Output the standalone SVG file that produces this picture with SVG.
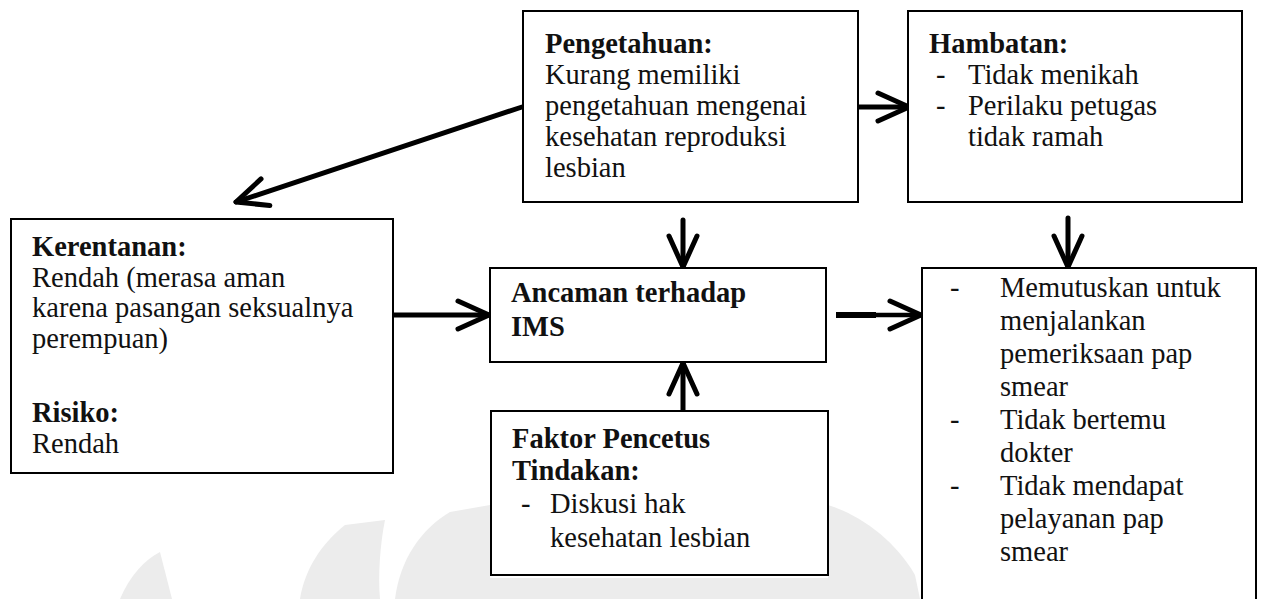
<svg xmlns="http://www.w3.org/2000/svg" width="1262" height="599" viewBox="0 0 1262 599">
<style>
  .box { fill: #ffffff; stroke: #000000; stroke-width: 2; }
  .t { font-family: "Liberation Serif", "Times New Roman", serif; font-size: 28.5px; fill: #111111; }
  .b { font-weight: bold; }
  .conn { stroke: #000000; stroke-width: 5; fill: none; stroke-linecap: round; }
  .wm { fill: #ececec; stroke: none; }
</style>
<defs>
  <marker id="ah" markerUnits="userSpaceOnUse" markerWidth="50" markerHeight="50" refX="0" refY="0" viewBox="-40 -25 50 50" orient="auto" overflow="visible">
    <path d="M-31,-14 L0,0 L-31,14" fill="none" stroke="#000000" stroke-width="5" stroke-linecap="round" stroke-linejoin="round"/>
  </marker>
</defs>
<rect width="1262" height="599" fill="#ffffff"/>
<g id="watermark">
  <path class="wm" d="M120,599 C130,575 145,560 160,552 L172,599 Z"/>
  <path class="wm" d="M300,599 C305,570 320,545 345,525 L385,520 C380,545 378,575 380,599 Z"/>
  <path class="wm" d="M395,599 C400,560 420,530 450,512 L490,505 L490,599 Z"/>
  <path class="wm" d="M828,505 C860,515 895,540 915,575 L920,599 L828,599 Z"/>
  <path class="wm" d="M1050,599 C1058,575 1075,555 1100,545 C1115,560 1125,580 1130,599 Z"/>
  <path class="wm" d="M490,599 L490,578 L828,578 L828,599 Z"/>
</g>
<g id="connectors">
  <line class="conn" x1="522" y1="107" x2="236" y2="202" marker-end="url(#ah)"/>
  <line class="conn" x1="858" y1="107" x2="909" y2="107" marker-end="url(#ah)"/>
  <line class="conn" x1="393" y1="315" x2="489" y2="315" marker-end="url(#ah)"/>
  <line class="conn" x1="836" y1="315" x2="876" y2="315" style="stroke-width:6;stroke-linecap:butt"/>
  <line class="conn" x1="876" y1="315" x2="921" y2="315" style="stroke-width:4.5;stroke-linecap:butt" marker-end="url(#ah)"/>
  <line class="conn" x1="683" y1="220" x2="683" y2="267" marker-end="url(#ah)"/>
  <line class="conn" x1="683" y1="411" x2="683" y2="363" marker-end="url(#ah)"/>
  <line class="conn" x1="1068" y1="218" x2="1068" y2="267" marker-end="url(#ah)"/>
</g>
<g id="pengetahuan">
  <rect class="box" x="523" y="11" width="335" height="191"/>
  <text class="t b" x="545" y="53">Pengetahuan:</text>
  <text class="t" x="545" y="84">Kurang memiliki</text>
  <text class="t" x="545" y="115">pengetahuan mengenai</text>
  <text class="t" x="545" y="146">kesehatan reproduksi</text>
  <text class="t" x="545" y="177">lesbian</text>
</g>
<g id="hambatan">
  <rect class="box" x="908" y="11" width="334" height="191"/>
  <text class="t b" x="929" y="53">Hambatan:</text>
  <text class="t" x="936" y="84">-</text>
  <text class="t" x="968" y="84">Tidak menikah</text>
  <text class="t" x="936" y="115">-</text>
  <text class="t" x="968" y="115">Perilaku petugas</text>
  <text class="t" x="968" y="146">tidak ramah</text>
</g>
<g id="kerentanan">
  <rect class="box" x="11" y="219" width="382" height="254"/>
  <text class="t b" x="32" y="256">Kerentanan:</text>
  <text class="t" x="32" y="287">Rendah (merasa aman</text>
  <text class="t" x="32" y="317">karena pasangan seksualnya</text>
  <text class="t" x="32" y="348">perempuan)</text>
  <text class="t b" x="32" y="422">Risiko:</text>
  <text class="t" x="32" y="453">Rendah</text>
</g>
<g id="ancaman">
  <rect class="box" x="490" y="268" width="336" height="94"/>
  <text class="t b" x="511" y="302">Ancaman terhadap</text>
  <text class="t b" x="511" y="336">IMS</text>
</g>
<g id="faktor">
  <rect class="box" x="491" y="411" width="337" height="164"/>
  <text class="t b" x="512" y="448">Faktor Pencetus</text>
  <text class="t b" x="512" y="480">Tindakan:</text>
  <text class="t" x="521" y="513">-</text>
  <text class="t" x="550" y="513">Diskusi hak</text>
  <text class="t" x="550" y="547">kesehatan lesbian</text>
</g>
<g id="keputusan">
  <rect class="box" x="922" y="268" width="334" height="345"/>
  <text class="t" x="950" y="297">-</text>
  <text class="t" x="1000" y="297">Memutuskan untuk</text>
  <text class="t" x="1000" y="330">menjalankan</text>
  <text class="t" x="1000" y="363">pemeriksaan pap</text>
  <text class="t" x="1000" y="396">smear</text>
  <text class="t" x="950" y="429">-</text>
  <text class="t" x="1000" y="429">Tidak bertemu</text>
  <text class="t" x="1000" y="462">dokter</text>
  <text class="t" x="950" y="495">-</text>
  <text class="t" x="1000" y="495">Tidak mendapat</text>
  <text class="t" x="1000" y="528">pelayanan pap</text>
  <text class="t" x="1000" y="561">smear</text>
</g>
</svg>
